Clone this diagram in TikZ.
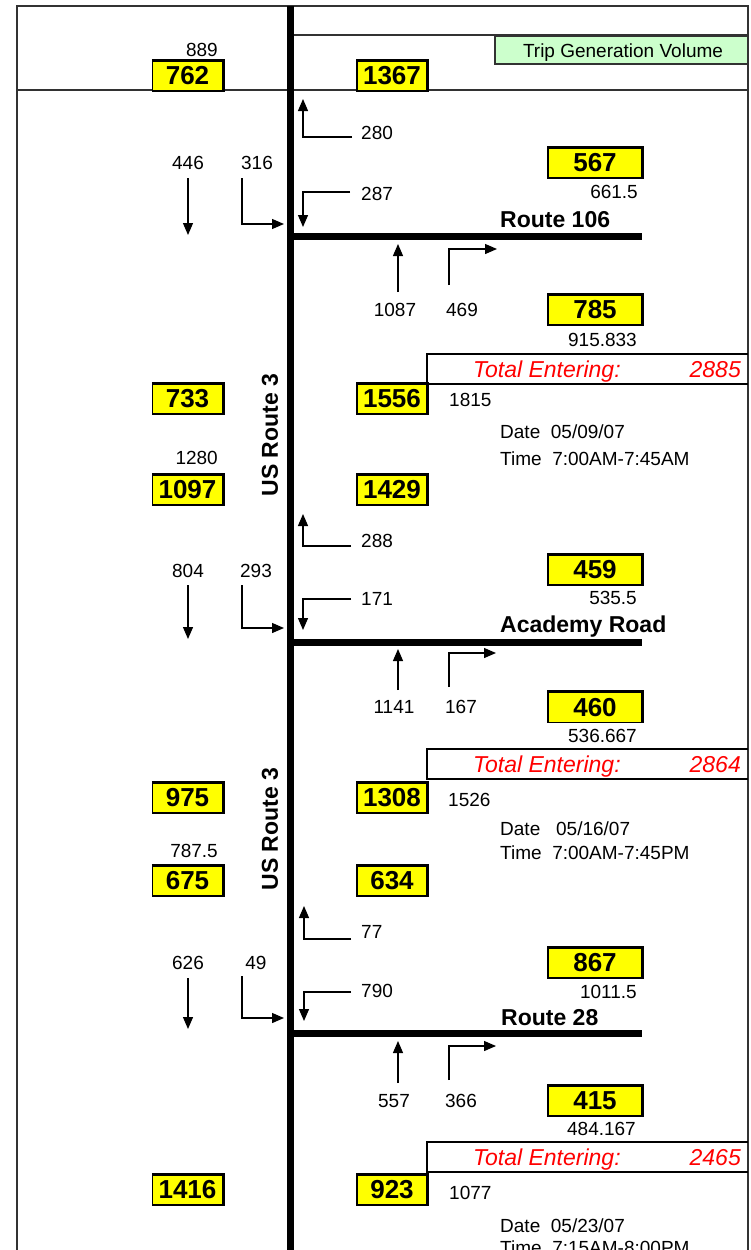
\documentclass[tikz,border=0pt]{standalone}
\usepackage{fontspec}
\setmainfont{Liberation Sans}
\usetikzlibrary{arrows.meta}
\definecolor{boxyellow}{RGB}{255,255,0}
\definecolor{tripgreen}{RGB}{204,255,204}
\definecolor{totred}{RGB}{255,0,0}
\definecolor{framegray}{RGB}{50,50,50}
\tikzset{
  frame/.style={line width=1.5pt, draw=framegray},
  road/.style={line width=7pt},
  mv/.style={line width=1.3pt, -{Triangle[length=12pt,width=10pt]}},
  lbl/.style={font=\fontsize{19}{22}\selectfont, inner sep=0pt},
  vol/.style={draw, fill=boxyellow, line width=1.5pt, inner sep=0pt, minimum height=30pt,
    font=\fontsize{26}{30}\selectfont\bfseries,
    append after command={\pgfextra{\draw[line width=3pt] (\tikzlastnode.north west) -- (\tikzlastnode.north east) -- (\tikzlastnode.south east);}}},
  volL/.style={vol, minimum width=70pt},
  volR/.style={vol, minimum width=94pt},
  roadname/.style={font=\fontsize{23}{26}\selectfont\bfseries, inner sep=0pt, anchor=base west},
  routelbl/.style={font=\fontsize{23}{26}\selectfont\bfseries, inner sep=0pt, rotate=90},
  tot/.style={font=\fontsize{23}{26}\selectfont\itshape, text=totred, inner sep=0pt},
  totbox/.style={line width=2.2pt},
  info/.style={lbl, anchor=base west},
}
\begin{document}
\begin{tikzpicture}[x=1pt,y=-1pt]
\useasboundingbox (0,0) rectangle (750,1250);
\clip (0,0) rectangle (750,1250);
% frame
\draw[frame] (17,1252) -- (17,6) -- (748,6) -- (748,1252);
\draw[frame] (17,90) -- (748,90);
\draw[frame, line width=1.2pt] (291,35) -- (748,35);
\draw[frame, line width=1.2pt, fill=tripgreen] (495,36) rectangle (748,64);
\node[lbl, anchor=base] (trip) at (623,57) {Trip Generation Volume};
% US Route 3 main line
\draw[line width=7pt] (290.5,6) -- (290.5,1252);
\node[routelbl] (us1) at (270,435) {US Route 3};
\node[routelbl] (us2) at (270,829) {US Route 3};

% top row
\node[lbl, anchor=east] (l889) at (218,50) {889};
\node[volL] (b762) at (187.5,76) {762};
\node[volL] (b1367) at (392,76) {1367};

% ===== Section 1: Route 106 =====
\draw[mv] (352,137) -- (303,137) -- (303,99);
\draw[mv] (350,192) -- (303,192) -- (303,227);
\draw[mv] (188,178) -- (188,235);
\draw[mv] (242,178) -- (242,224) -- (284,224);
\draw[mv] (398,292) -- (398,244);
\draw[mv] (449,285) -- (449,249) -- (497,249);
\node[lbl, anchor=west] (n280) at (361,133) {280};
\node[lbl, anchor=west] (n287) at (361,194) {287};
\node[lbl] (n446) at (188,163) {446};
\node[lbl] (n316) at (257,163) {316};
\node[lbl] (n1087) at (395,310) {1087};
\node[lbl] (n469) at (462,310) {469};
\draw[road] (289,236) -- (642,236);
\node[roadname] (r106) at (500,227) {Route 106};
\node[volR] (b567) at (595,163) {567};
\node[lbl, anchor=east] (n6615) at (638,192) {661.5};
\node[volR] (b785) at (595,310) {785};
\node[lbl, anchor=east] (n915) at (637,340) {915.833};
\draw[totbox] (748,354) -- (427,354) -- (427,384) -- (748,384);
\node[tot, anchor=base west] (te1) at (473,377) {Total Entering:};
\node[tot, anchor=base east] (tv1) at (741,377) {2885};
\node[volL] (b733) at (187.5,399) {733};
\node[volL] (b1556) at (392,399) {1556};
\node[lbl, anchor=west] (n1815) at (449,400) {1815};
\node[info] (d1) at (500,438) {Date\ \ 05/09/07};
\node[info] (t1) at (500,465) {Time\ \ 7:00AM-7:45AM};
\node[lbl, anchor=east] (n1280) at (218,458) {1280};
\node[volL] (b1097) at (187.5,490) {1097};
\node[volL] (b1429) at (392,490) {1429};

% ===== Section 2: Academy Road =====
\draw[mv] (351,546) -- (303,546) -- (303,514);
\draw[mv] (351,599) -- (303,599) -- (303,630);
\draw[mv] (188,585) -- (188,639);
\draw[mv] (242,585) -- (242,628) -- (284,628);
\draw[mv] (398,690) -- (398,649);
\draw[mv] (449,687) -- (449,653) -- (496,653);
\node[lbl, anchor=west] (n288) at (361,541) {288};
\node[lbl, anchor=west] (n171) at (361,599) {171};
\node[lbl] (n804) at (188,571) {804};
\node[lbl] (n293) at (256,571) {293};
\node[lbl] (n1141) at (394,707) {1141};
\node[lbl] (n167) at (461,707) {167};
\draw[road] (289,642) -- (642,642);
\node[roadname] (racad) at (500,632) {Academy Road};
\node[volR] (b459) at (595,570) {459};
\node[lbl, anchor=east] (n5355) at (637,598) {535.5};
\node[volR] (b460) at (595,707.5) {460};
\node[lbl, anchor=east] (n536) at (637,736) {536.667};
\draw[totbox] (748,749) -- (427,749) -- (427,779) -- (748,779);
\node[tot, anchor=base west] (te2) at (473,772) {Total Entering:};
\node[tot, anchor=base east] (tv2) at (741,772) {2864};
\node[volL] (b975) at (187.5,798) {975};
\node[volL] (b1308) at (392,798) {1308};
\node[lbl, anchor=west] (n1526) at (448,800) {1526};
\node[info] (d2) at (500,835) {Date\ \ \ 05/16/07};
\node[info] (t2) at (500,859) {Time\ \ 7:00AM-7:45PM};
\node[lbl, anchor=east] (n7875) at (218,851) {787.5};
\node[volL] (b675) at (187.5,881) {675};
\node[volL] (b634) at (392,881) {634};

% ===== Section 3: Route 28 =====
\draw[mv] (351,939) -- (304,939) -- (304,906);
\draw[mv] (351,992) -- (304,992) -- (304,1021);
\draw[mv] (188,978) -- (188,1029);
\draw[mv] (242,976) -- (242,1018) -- (284,1018);
\draw[mv] (398,1083) -- (398,1041);
\draw[mv] (449,1080) -- (449,1046) -- (496,1046);
\node[lbl, anchor=west] (n77) at (361,932) {77};
\node[lbl, anchor=west] (n790) at (361,991) {790};
\node[lbl] (n626) at (188,963) {626};
\node[lbl] (n49) at (256,963) {49};
\node[lbl] (n557) at (394,1101) {557};
\node[lbl] (n366) at (461,1101) {366};
\draw[road] (289,1033) -- (642,1033);
\node[roadname] (r28) at (501,1025) {Route 28};
\node[volR] (b867) at (595,963) {867};
\node[lbl, anchor=east] (n10115) at (637,992) {1011.5};
\node[volR] (b415) at (595,1101) {415};
\node[lbl, anchor=east] (n484) at (636,1129) {484.167};
\draw[totbox] (748,1142) -- (427,1142) -- (427,1172) -- (748,1172);
\node[tot, anchor=base west] (te3) at (473,1165) {Total Entering:};
\node[tot, anchor=base east] (tv3) at (741,1165) {2465};
\node[volL] (b1416) at (187.5,1190) {1416};
\node[volL] (b923) at (392,1190) {923};
\node[lbl, anchor=west] (n1077) at (449,1193) {1077};
\node[info] (d3) at (500,1232) {Date\ \ 05/23/07};
\node[info] (t3) at (500,1254) {Time\ \ 7:15AM-8:00PM};
\end{tikzpicture}
\end{document}
